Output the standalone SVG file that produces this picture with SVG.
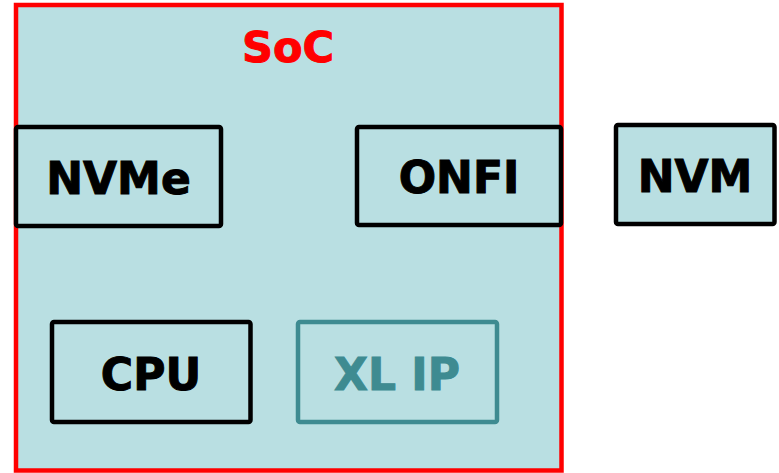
<svg xmlns="http://www.w3.org/2000/svg" width="779" height="473" viewBox="0 0 779 473">
<style>
.box{fill:#b9dfe2;stroke:#000;stroke-width:4.5}
.t{font-family:"DejaVu Sans",sans-serif;font-weight:bold;font-size:44px;text-anchor:middle;fill:#000;stroke:#000;stroke-width:1}
</style>
<rect width="779" height="473" fill="#fff"/>
<g id="soc">
<rect x="16" y="5" width="545.5" height="465.5" fill="#b9dfe2" stroke="#ff0000" stroke-width="4.5"/>
<text class="t" x="288" y="62" style="fill:#ff0000;stroke:#ff0000;font-size:43px">SoC</text>
</g>
<g id="nvme">
<rect class="box" x="16" y="127" width="205" height="99" rx="2"/>
<text class="t" x="118.5" y="194">NVMe</text>
</g>
<g id="onfi">
<rect class="box" x="357" y="127" width="204" height="98" rx="2"/>
<text class="t" x="459" y="193">ONFI</text>
</g>
<g id="nvm">
<rect class="box" x="616" y="125" width="158.5" height="99" rx="2"/>
<text class="t" x="695" y="192">NVM</text>
</g>
<g id="cpu">
<rect class="box" x="52" y="322" width="198.5" height="100" rx="2"/>
<text class="t" x="151" y="390">CPU</text>
</g>
<g id="xlip">
<rect class="box" x="298" y="322" width="199" height="100" rx="2" style="stroke:#3e8b91"/>
<text class="t" x="397" y="390" style="fill:#3e8b91;stroke:#3e8b91">XL IP</text>
</g>
<g id="connectors"></g>
</svg>
